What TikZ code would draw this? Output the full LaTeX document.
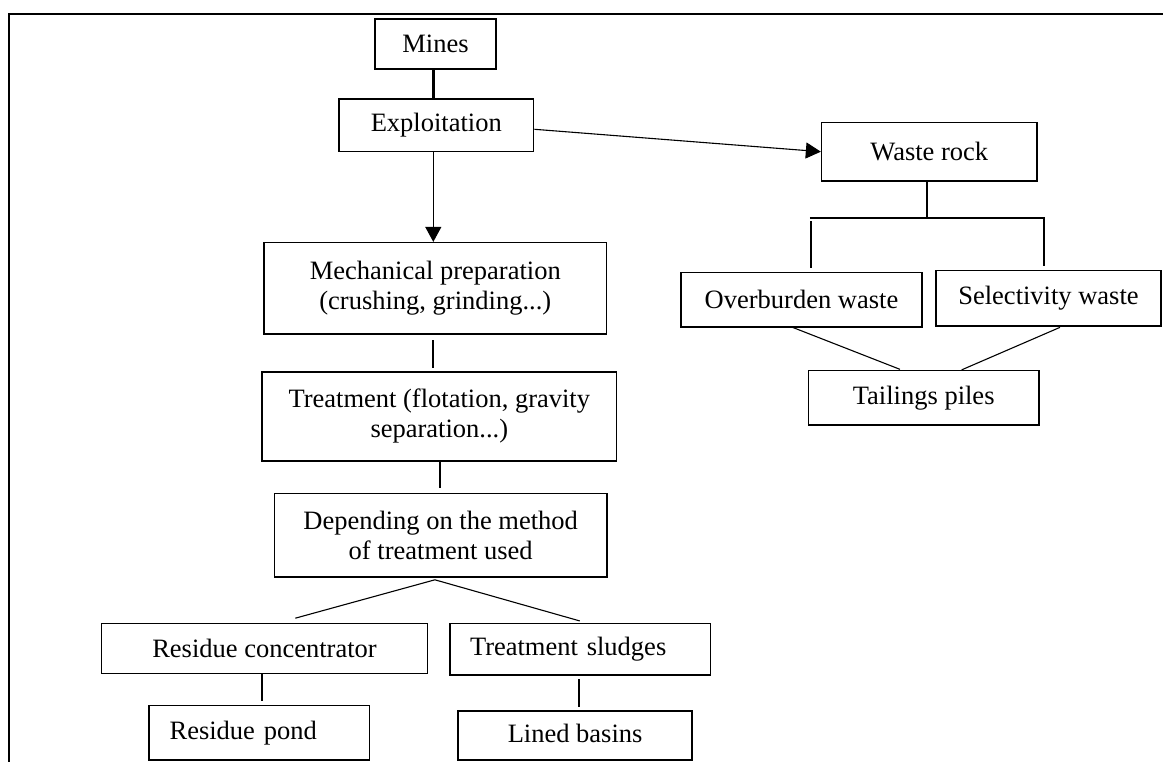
\documentclass[tikz,border=0pt]{standalone}
\usepackage{fontspec}
\setmainfont{Liberation Serif}
\usetikzlibrary{arrows.meta,calc}
\tikzset{
  box/.style={draw, line width=1.6pt, inner sep=0pt, align=center, rectangle},
  thick link/.style={line width=2.2pt},
  thin link/.style={line width=1.1pt},
  flow/.style={line width=1.1pt, -{Triangle[length=15pt,width=16pt]}},
  frame/.style={line width=2pt}
}
\begin{document}
\begin{tikzpicture}[x=1pt,y=1pt,font=\fontsize{26.5pt}{30pt}\selectfont]
\useasboundingbox (0,0) rectangle (1163,-762);
% frame
\draw[frame] (9,-762) -- (9,-14) -- (1163,-14);

% left column
\node[box, minimum width=121pt, minimum height=50pt] (mines) at (435.5,-44) {Mines};
\node[box, minimum width=194.7pt, minimum height=52.4pt] (expl) at (436.3,-125.5) {Exploitation};
\node[box, minimum width=342.7pt, minimum height=91.6pt] (mech) at (435.3,-288.5) {Mechanical preparation\\(crushing, grinding...)};
\node[box, minimum width=354.6pt, minimum height=89pt] (treat) at (439.3,-416.2) {Treatment (flotation, gravity\\separation...)};
\node[box, minimum width=332.5pt, minimum height=83.4pt] (dep) at (440.7,-535) {Depending on the method\\of treatment used};
\node[box, minimum width=326.2pt, minimum height=50pt] (rescon) at (264.5,-648.3) {Residue concentrator};
\node[box, minimum width=260.4pt, minimum height=51.7pt, text width=220.4pt, align=left] (sludge) at (580.2,-649.2) {Treatment sludges};
\node[box, minimum width=220.4pt, minimum height=54.3pt, text width=179.6pt, align=left] (pond) at (259.4,-732.8) {Residue pond};
\node[box, minimum width=233.8pt, minimum height=49pt, text depth=4pt] (lined) at (575.1,-735.5) {Lined basins};

% right column
\node[box, minimum width=215.3pt, minimum height=58.7pt] (waste) at (929.3,-151.7) {Waste rock};
\node[box, minimum width=241pt, minimum height=54.3pt] (overb) at (801.5,-299.8) {Overburden waste};
\node[box, minimum width=225pt, minimum height=55.7pt] (selec) at (1048.5,-298.2) {Selectivity waste};
\node[box, minimum width=230.7pt, minimum height=54.3pt] (tail) at (923.7,-397.8) {Tailings piles};

% connectors, left
\draw[thick link] ($(mines.south)+(-2,0)$) -- ($(mines.south |- expl.north)+(-2,0)$);
\draw[flow] ($(expl.south)+(-3,0)$) -- ($(expl.south |- mech.north)+(-3,0)$);
\draw[flow] ($(expl.east)+(0,-3.8)$) -- (waste.west);
\draw[thick link] ($(mech.south)+(-2.6,-5)$) -- ($(mech.south |- treat.north)+(-2.6,3.4)$);
\draw[thick link] ($(treat.south)+(0.5,1.5)$) -- ($(treat.south |- dep.north)+(0.5,5)$);
\coordinate (dsplit) at ($(dep.south)+(-5.8,-2.3)$);
\draw[thin link] (dsplit) -- ($(rescon.north)+(30.8,4.3)$);
\draw[thin link] (dsplit) -- ($(sludge.north)+(-0.4,1.6)$);
\draw[thick link] ($(rescon.south)+(-2.3,0)$) -- ($(rescon.south |- pond.north)+(-2.3,3.4)$);
\draw[thick link] ($(sludge.south)+(-1.2,-3.3)$) -- ($(sludge.south |- lined.north)+(-1.2,3.3)$);

% connectors, right
\coordinate (jl) at (811,-217.7);
\coordinate (jr) at (1044.3,-217.7);
\draw[thick link] ($(waste.south)+(-2.6,0)$) -- ($(waste.south |- jl)+(-2.6,0)$);
\draw[thick link] ([xshift=-1.1pt]jl) -- ([xshift=1.1pt]jr);
\draw[thick link] ($(jl)+(0,-3.5)$) -- ($(jl |- overb.north)+(0,3.4)$);
\draw[thick link] (jr) -- ($(jr |- selec.north)+(0,3.6)$);
\draw[thin link] ($(overb.south)+(-10.5,1)$) -- ($(tail.north)+(-23.7,0.5)$);
\draw[thin link] ($(selec.south)+(11.5,-0.5)$) -- ($(tail.north)+(38,0)$);
\end{tikzpicture}
\end{document}
